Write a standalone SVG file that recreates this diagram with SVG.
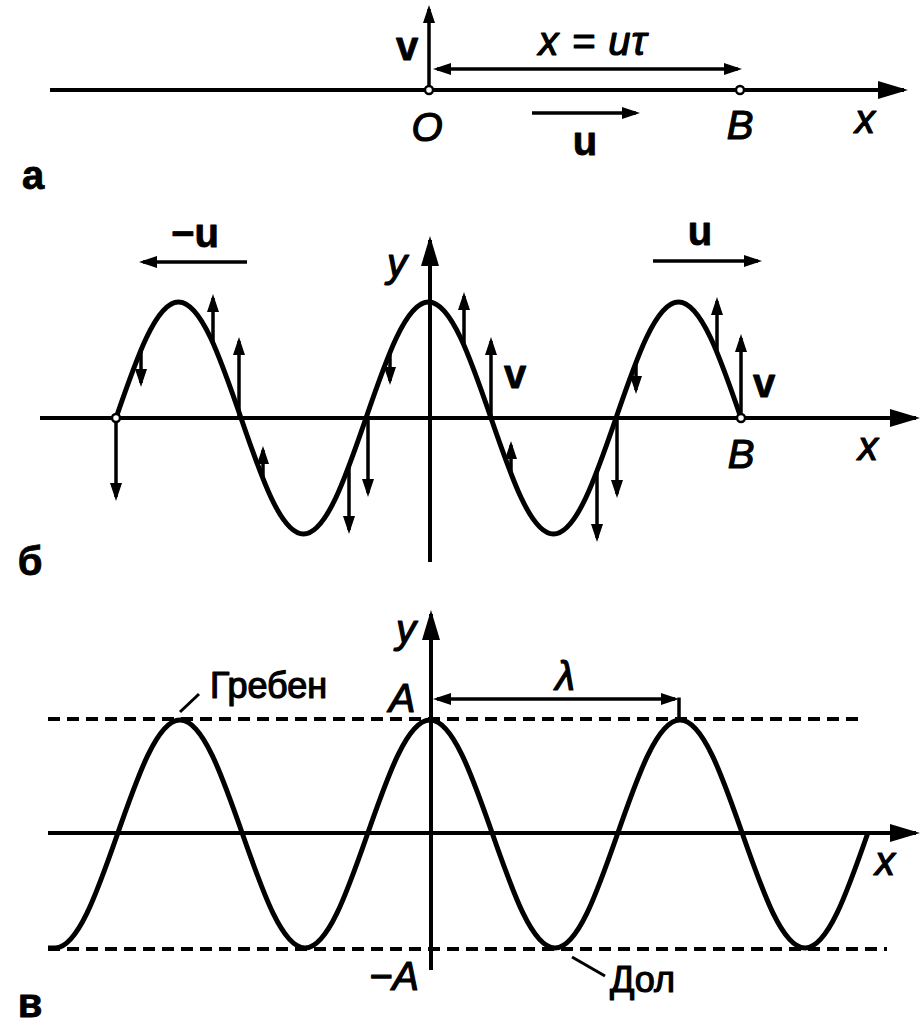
<svg xmlns="http://www.w3.org/2000/svg" width="923" height="1035" viewBox="0 0 923 1035">
<style>
text{font-family:"Liberation Sans",Arial,sans-serif;fill:#000;stroke:#000;stroke-width:1.2;stroke-linejoin:round}
.lab{font-size:40px}
.it{font-style:italic}
.bd{font-weight:bold;stroke-width:0.8}
.ru{font-size:36px}
.ax{stroke:#000;stroke-width:4;fill:none}
.cv{stroke:#000;stroke-width:5;fill:none;stroke-linejoin:round}
.ar{stroke:#000;stroke-width:3.5;fill:none}
.ds{stroke:#000;stroke-width:4;fill:none;stroke-dasharray:12 7}
.thin{stroke:#000;stroke-width:3;fill:none}
.dot{fill:#fff;stroke:#000;stroke-width:2.5}
</style>
<defs>
<marker id="axh" markerUnits="userSpaceOnUse" markerWidth="30" markerHeight="18" refX="26" refY="9" orient="auto"><path d="M0,0 L30,9 L0,18 z" fill="#000"/></marker>
<marker id="sh" markerUnits="userSpaceOnUse" markerWidth="18" markerHeight="12" refX="14" refY="6" orient="auto-start-reverse"><path d="M0,0 L18,6 L0,12 z" fill="#000"/></marker>
</defs>

<g id="panel-a">
<line class="ax" x1="50" y1="90" x2="904" y2="90" marker-end="url(#axh)"/>
<line class="ar" x1="429" y1="90" x2="429" y2="9" marker-end="url(#sh)"/>
<line class="ar" x1="437" y1="69" x2="738" y2="69" marker-start="url(#sh)" marker-end="url(#sh)"/>
<line class="ar" x1="532" y1="113" x2="636" y2="113" marker-end="url(#sh)"/>
<circle class="dot" cx="429" cy="90" r="4"/>
<circle class="dot" cx="740" cy="90" r="4"/>
<text class="lab bd" x="407" y="60" text-anchor="middle">v</text>
<text class="lab it" x="593" y="55" text-anchor="middle" letter-spacing="1">x = uτ</text>
<text class="lab it" x="427" y="141" text-anchor="middle">O</text>
<text class="lab it" x="740" y="139" text-anchor="middle">B</text>
<text class="lab bd" x="585" y="155" text-anchor="middle">u</text>
<text class="lab it" x="865" y="133" text-anchor="middle">x</text>
<text class="lab bd" x="33" y="189" text-anchor="middle">а</text>
</g>

<g id="panel-b">
<line class="ax" x1="40" y1="418" x2="916" y2="418" marker-end="url(#axh)"/>
<line class="ax" x1="430" y1="562" x2="430" y2="240" marker-end="url(#axh)"/>
<path class="cv" d="M116,418 C136.38,358.58 155.88,302 178.5,302 S220.62,358.58 241,418 S280.88,534 303.5,534 S345.62,477.42 366,418 S405.88,302 428.5,302 S470.62,358.58 491,418 S530.88,534 553.5,534 S595.62,477.42 616,418 S655.88,302 678.5,302 S720.62,358.58 741,418"/>
<g id="velocities">
<line class="ar" x1="116" y1="418" x2="116" y2="497" marker-end="url(#sh)"/>
<line class="ar" x1="141" y1="348" x2="141" y2="383" marker-end="url(#sh)"/>
<line class="ar" x1="213" y1="343" x2="213" y2="298" marker-end="url(#sh)"/>
<line class="ar" x1="239" y1="418" x2="239" y2="341" marker-end="url(#sh)"/>
<line class="ar" x1="263" y1="480" x2="263" y2="450" marker-end="url(#sh)"/>
<line class="ar" x1="349" y1="466" x2="349" y2="530" marker-end="url(#sh)"/>
<line class="ar" x1="368" y1="418" x2="368" y2="493" marker-end="url(#sh)"/>
<line class="ar" x1="390" y1="352" x2="390" y2="381" marker-end="url(#sh)"/>
<line class="ar" x1="464" y1="345" x2="464" y2="296" marker-end="url(#sh)"/>
<line class="ar" x1="491" y1="418" x2="491" y2="341" marker-end="url(#sh)"/>
<line class="ar" x1="511" y1="474" x2="511" y2="445" marker-end="url(#sh)"/>
<line class="ar" x1="597" y1="471" x2="597" y2="538" marker-end="url(#sh)"/>
<line class="ar" x1="617" y1="418" x2="617" y2="494" marker-end="url(#sh)"/>
<line class="ar" x1="636" y1="362" x2="636" y2="390" marker-end="url(#sh)"/>
<line class="ar" x1="717" y1="352" x2="717" y2="301" marker-end="url(#sh)"/>
<line class="ar" x1="741" y1="418" x2="741" y2="338" marker-end="url(#sh)"/>
</g>
<line class="ar" x1="247" y1="262" x2="143" y2="262" marker-end="url(#sh)"/>
<line class="ar" x1="653" y1="261" x2="758" y2="261" marker-end="url(#sh)"/>
<circle class="dot" cx="116" cy="418" r="4"/>
<circle class="dot" cx="741" cy="418" r="4"/>
<text class="lab bd" x="195" y="247" text-anchor="middle">−u</text>
<text class="lab bd" x="700" y="245" text-anchor="middle">u</text>
<text class="lab it" x="397" y="277" text-anchor="middle">y</text>
<text class="lab bd" x="515" y="388" text-anchor="middle">v</text>
<text class="lab bd" x="764" y="397" text-anchor="middle">v</text>
<text class="lab it" x="741" y="468" text-anchor="middle">B</text>
<text class="lab it" x="868" y="460" text-anchor="middle">x</text>
<text class="lab bd" x="30" y="575" text-anchor="middle">б</text>
</g>

<g id="panel-c">
<line class="ds" x1="48" y1="719" x2="862" y2="719"/>
<line class="ds" x1="48" y1="949" x2="887" y2="949"/>
<line class="ax" x1="48" y1="833" x2="916" y2="833" marker-end="url(#axh)"/>
<line class="ax" x1="431" y1="970" x2="431" y2="614" marker-end="url(#axh)"/>
<path class="cv" d="M48,948 L55,948 C77.62,948 97.12,892.4 117.5,834 S157.38,720 180,720 S222.12,775.6 242.5,834 S282.38,948 305,948 S347.12,892.4 367.5,834 S407.38,720 430,720 S472.12,775.6 492.5,834 S532.38,948 555,948 S597.12,892.4 617.5,834 S657.38,720 680,720 S722.12,775.6 742.5,834 S782.38,948 805,948 S847.12,892.4 867.5,834"/>
<line class="ar" x1="437" y1="699" x2="675" y2="699" marker-start="url(#sh)" marker-end="url(#sh)"/>
<line class="ar" x1="679" y1="697.5" x2="679" y2="720"/>
<line class="thin" x1="180" y1="712" x2="199" y2="694"/>
<line class="thin" x1="572" y1="957" x2="605" y2="976"/>
<text class="lab it" x="565" y="690" text-anchor="middle">λ</text>
<text class="ru" x="210" y="698">Гребен</text>
<text class="ru" x="610" y="992">Дол</text>
<text class="lab it" x="402" y="712" text-anchor="middle">A</text>
<text class="lab it" x="394" y="990" text-anchor="middle">−A</text>
<text class="lab it" x="406" y="643" text-anchor="middle">y</text>
<text class="lab it" x="885" y="875" text-anchor="middle">x</text>
<text class="lab bd" x="30" y="1017" text-anchor="middle">в</text>
</g>
</svg>
